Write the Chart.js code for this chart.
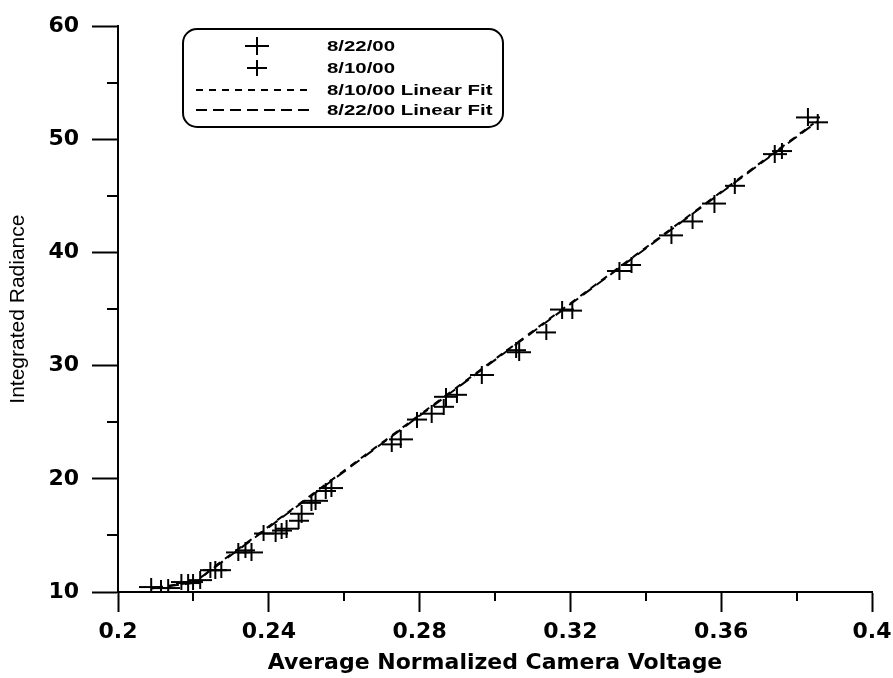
<!DOCTYPE html>
<html>
<head>
<meta charset="utf-8">
<script src="https://cdn.jsdelivr.net/npm/chart.js@4"></script>
<style>
  body { margin: 0; background: #fff; }
  canvas { display: block; }
</style>
</head>
<body>
<canvas id="radianceChart" width="893" height="678"></canvas>
<script>
// values
const seriesLabels = ["8/22/00", "8/10/00", "8/10/00 Linear Fit", "8/22/00 Linear Fit"];

const aug22X = [0.2088, 0.2133, 0.2186, 0.2218, 0.2258, 0.2319, 0.2354, 0.2418, 0.2447, 0.2487, 0.2524, 0.2566,
  0.2750, 0.2832, 0.2870, 0.2965, 0.3064, 0.3178, 0.3330, 0.3468, 0.3582, 0.3742, 0.3830];
const aug22Y = [10.44, 10.35, 10.79, 11.05, 11.93, 13.50, 13.50, 15.17, 15.60, 16.92, 18.06, 19.19,
  23.49, 25.76, 27.25, 29.18, 31.19, 34.96, 38.37, 41.52, 44.33, 48.70, 51.94];

const aug10X = [0.2114, 0.2168, 0.2199, 0.2245, 0.2274, 0.2338, 0.2386, 0.2434, 0.2479, 0.2513, 0.2551, 0.2726,
  0.2793, 0.2864, 0.2899, 0.3056, 0.3136, 0.3205, 0.3362, 0.3524, 0.3636, 0.3761, 0.3856];
const aug10Y = [10.35, 10.88, 10.88, 11.93, 11.93, 13.68, 15.17, 15.43, 16.30, 17.88, 18.93, 23.05,
  25.24, 26.37, 27.43, 31.37, 32.94, 34.87, 38.90, 42.75, 45.90, 48.97, 51.51];

const fit10X = [0.2100, 0.2210, 0.2250, 0.3845];
const fit10Y = [10.4, 10.9, 12.1, 51.4];
const fit22X = [0.2088, 0.2199, 0.2245, 0.3856];
const fit22Y = [10.3, 10.8, 11.9, 51.6];

const xTickLabels = ["0.2", "0.24", "0.28", "0.32", "0.36", "0.4"];
const yTickLabels = ["10", "20", "30", "40", "50", "60"];

function toPoints(xs, ys) {
  return xs.map((x, i) => ({ x: x, y: ys[i] }));
}

// plus sign that is a bit wider than tall, like the plotter's marker
function plusMarker(w, h, lw) {
  const c = document.createElement("canvas");
  c.width = w;
  c.height = h;
  const g = c.getContext("2d");
  g.fillStyle = "#000";
  g.fillRect(0, Math.round(h / 2 - lw / 2), w, lw);
  g.fillRect(Math.round(w / 2 - lw / 2), 0, lw, h);
  return c;
}

const bigPlus = plusMarker(24, 18, 2);
const smallPlus = plusMarker(20, 16, 2);

const minorTicks = {
  id: "minorTicks",
  afterDraw(chart) {
    const ctx = chart.ctx;
    const xs = chart.scales.x;
    const ys = chart.scales.y;
    ctx.save();
    ctx.strokeStyle = "#000";
    ctx.lineWidth = 2;
    ctx.beginPath();
    for (let v = 0.22; v < 0.4; v += 0.04) {
      const px = Math.round(xs.getPixelForValue(v));
      ctx.moveTo(px, ys.bottom);
      ctx.lineTo(px, ys.bottom + 9);
    }
    for (let v = 15; v < 60; v += 10) {
      const py = Math.round(ys.getPixelForValue(v));
      ctx.moveTo(xs.left, py);
      ctx.lineTo(xs.left - 11, py);
    }
    ctx.stroke();
    ctx.restore();
  },
};

const boxLegend = {
  id: "boxLegend",
  afterDraw(chart) {
    const ctx = chart.ctx;
    const left = 183, top = 29, w = 320, h = 98;
    const rows = [46, 68, 90, 110];
    ctx.save();
    ctx.fillStyle = "#fff";
    ctx.strokeStyle = "#000";
    ctx.lineWidth = 2;
    ctx.beginPath();
    ctx.roundRect(left, top, w, h, 14);
    ctx.fill();
    ctx.stroke();

    chart.data.datasets.forEach((ds, i) => {
      const y = rows[i];
      if (ds.showLine) {
        ctx.setLineDash(ds.borderDash);
        ctx.lineWidth = 2;
        ctx.beginPath();
        ctx.moveTo(196, y);
        ctx.lineTo(312, y);
        ctx.stroke();
        ctx.setLineDash([]);
      } else {
        const img = ds.pointStyle;
        ctx.drawImage(img, 257 - img.width / 2, y - img.height / 2);
      }
      ctx.save();
      ctx.translate(327, y);
      ctx.scale(1.36, 1);
      ctx.fillStyle = "#000";
      ctx.font = "bold 15px 'Liberation Sans', Arial, sans-serif";
      ctx.textBaseline = "middle";
      ctx.fillText(ds.label, 0, 1);
      ctx.restore();
    });
    ctx.restore();
  },
};

const ctx = document.getElementById("radianceChart").getContext("2d");

new Chart(ctx, {
  type: "scatter",
  data: {
    datasets: [
      {
        label: seriesLabels[0],
        data: toPoints(aug22X, aug22Y),
        pointStyle: bigPlus,
        borderColor: "#000",
        backgroundColor: "#000",
      },
      {
        label: seriesLabels[1],
        data: toPoints(aug10X, aug10Y),
        pointStyle: smallPlus,
        borderColor: "#000",
        backgroundColor: "#000",
      },
      {
        label: seriesLabels[2],
        data: toPoints(fit10X, fit10Y),
        showLine: true,
        pointRadius: 0,
        borderColor: "#000",
        borderWidth: 2,
        borderDash: [7, 6],
      },
      {
        label: seriesLabels[3],
        data: toPoints(fit22X, fit22Y),
        showLine: true,
        pointRadius: 0,
        borderColor: "#000",
        borderWidth: 2,
        borderDash: [11, 6],
      },
    ],
  },
  options: {
    responsive: false,
    animation: false,
    devicePixelRatio: 1,
    layout: { padding: { left: 0, top: 21, right: 21, bottom: 0 } },
    plugins: {
      legend: { display: false },
      tooltip: { enabled: false },
    },
    scales: {
      x: {
        type: "linear",
        min: 0.2,
        max: 0.4,
        afterFit(scale) {
          scale.height = 86;
          scale.paddingRight = 0;
        },
        border: { color: "#000", width: 2 },
        grid: { drawOnChartArea: false, tickLength: 20, tickColor: "#000", tickWidth: 2 },
        ticks: {
          stepSize: 0.04,
          padding: 7,
          color: "#000",
          font: { family: "DejaVu Sans", size: 22, weight: "bold" },
          callback: (v, i) => xTickLabels[i],
        },
        title: {
          display: true,
          text: "Average Normalized Camera Voltage",
          color: "#000",
          font: { family: "DejaVu Sans", size: 22, weight: "bold" },
          padding: { top: 0, bottom: 2 },
        },
      },
      y: {
        type: "linear",
        min: 10,
        max: 60,
        afterFit(scale) { scale.width = 118; },
        border: { color: "#000", width: 2 },
        grid: { drawOnChartArea: false, tickLength: 26, tickColor: "#000", tickWidth: 2 },
        ticks: {
          stepSize: 10,
          padding: 13,
          color: "#000",
          font: { family: "DejaVu Sans", size: 22, weight: "bold" },
          callback: (v, i) => yTickLabels[i],
        },
        title: {
          display: true,
          text: "Integrated Radiance",
          color: "#000",
          font: { family: "Liberation Sans", size: 21 },
          padding: { top: 6, bottom: 0 },
        },
      },
    },
  },
  plugins: [minorTicks, boxLegend],
});
</script>
</body>
</html>
